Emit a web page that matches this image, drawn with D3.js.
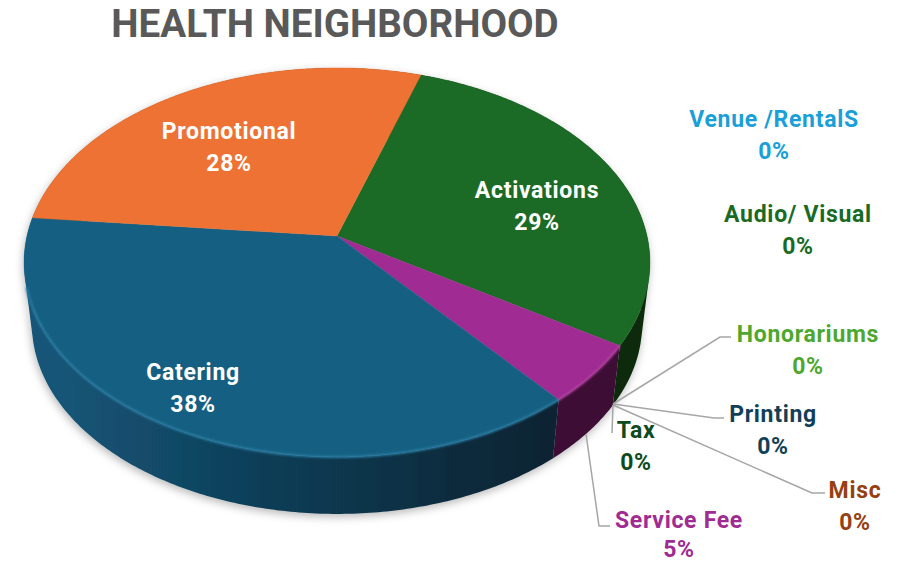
<!DOCTYPE html>
<html><head><meta charset="utf-8">
<script src="https://cdn.jsdelivr.net/npm/d3@7/dist/d3.min.js"></script>
<style>html,body{margin:0;background:#fff}svg{display:block}text{font-family:Roboto,sans-serif;font-weight:700;text-anchor:middle}</style>
</head><body><svg id="c" width="905" height="563"></svg>
<script>
const chartTitle = "HEALTH NEIGHBORHOOD";
const categories = ["Activations","Venue /RentalS","Audio/ Visual","Honorariums","Printing","Misc","Tax","Service Fee","Catering","Promotional"];
const shareValues = [29.0,0,0,0,0,0,0,5.0,37.6,28.4];

const faceColors = {"Activations":"#1b6b27","Service Fee":"#a02b93","Catering":"#156082","Promotional":"#ed7233"};
const sideLight = {"Activations":"#0b3312","Service Fee":"#45143f","Catering":"#145577","Promotional":"#8a4018"};
const sideDark  = {"Activations":"#0a2c10","Service Fee":"#3c1135","Catering":"#0a2433","Promotional":"#7a3814"};
const rimColors = {"Catering":"#2a7ba3","Service Fee":"#b0409f"};
const labelColors = {"Activations":"#fff","Venue /RentalS":"#1a9fd8","Audio/ Visual":"#196b24","Honorariums":"#4ea72e","Printing":"#123f58","Misc":"#964012","Tax":"#0f4a1e","Service Fee":"#a02b93","Catering":"#fff","Promotional":"#fff"};
const labelPlaces = {"Activations":[537,190,222],"Venue /RentalS":[774,119,151],"Audio/ Visual":[798,214,246],"Honorariums":[808,334,366],"Printing":[773,414,446],"Misc":[855,490,522],"Tax":[636,430,462],"Service Fee":[679,520,549],"Catering":[193,372,404],"Promotional":[229,131,163]};
const leaderPaths = [
  [[613,404],[720,337],[731,337]],
  [[613,404],[714,418],[724,418]],
  [[613,405],[812,493],[825,493]],
  [[613,405],[612,433]],
  [[586,434],[599,526],[610,526]]
];

const svg = d3.select("#c");
const defs = svg.append("defs");
defs.append("filter").attr("id","shadow").attr("x","-10%").attr("y","-10%").attr("width","120%").attr("height","125%")
  .append("feDropShadow").attr("dx",-1).attr("dy",3).attr("stdDeviation",4).attr("flood-color","#000").attr("flood-opacity",.28);
defs.append("filter").attr("id","soft").append("feGaussianBlur").attr("stdDeviation",.9);

// Perspective projection of the pie disc
const cx=337, persp=0.136;
const project=(a,level)=>{
  const x=Math.sin(a), y=-Math.cos(a), w=1-persp*y;
  return level===0
    ? [cx+310*x/w, 236+190.9*y/w]
    : [cx+0.975*310*x/w, 298.5+0.975*190.9*y/w];
};
const pie=d3.pie().sort(null).value((d,i)=>shareValues[i]).startAngle(17.8*Math.PI/180).endAngle(17.8*Math.PI/180+2*Math.PI);
const arcs=pie(categories).map((a,i)=>({...a,name:categories[i]})).filter(a=>a.value>0);
const line=d3.line();
const samples=(a,step=0.012)=>{
  const n=Math.max(2,Math.ceil((a.endAngle-a.startAngle)/step));
  return d3.range(n+1).map(i=>a.startAngle+(a.endAngle-a.startAngle)*i/n);
};

// side wall: one path of consistently wound quads, so the fold at the silhouette stays filled
const shade=d3.scaleLinear().domain([60,300,540]).range([0,.55,1]).clamp(true);
const walls=svg.append("g").attr("filter","url(#shadow)");
arcs.forEach((a,k)=>{
  const col=d3.interpolateRgb(sideLight[a.name],sideDark[a.name]);
  const grad=defs.append("linearGradient").attr("id","wall"+k).attr("gradientUnits","userSpaceOnUse")
    .attr("x1",0).attr("y1",0).attr("x2",905).attr("y2",0);
  d3.range(0,905.1,30).forEach(x=>grad.append("stop").attr("offset",x/905).attr("stop-color",col(shade(x))));
  const d=d3.pairs(samples(a)).map(([p,q])=>{
    let quad=[project(p,0),project(q,0),project(q,1),project(p,1)];
    if(d3.polygonArea(quad)<0) quad=quad.reverse();
    return line(quad)+"Z";
  }).join("");
  walls.append("path").attr("d",d).attr("fill",`url(#wall${k})`).attr("fill-rule","nonzero");
});

// top face
const faces=svg.append("g");
arcs.forEach(a=>{
  const pts=[[cx,236],...samples(a).map(t=>project(t,0))];
  faces.append("path").attr("d",line(pts)+"Z").attr("fill",faceColors[a.name]).attr("stroke",faceColors[a.name]).attr("stroke-width",.4);
});
// bevel highlight on the front rim
const rim=svg.append("g").attr("filter","url(#soft)");
arcs.filter(a=>rimColors[a.name]).forEach(a=>{
  const front=samples(a).filter(t=>t<Math.PI*1.42);
  rim.append("path").attr("d",line(front.map(t=>project(t,0)))).attr("fill","none").attr("stroke",rimColors[a.name]).attr("stroke-width",2.2);
});

// leaders
svg.append("g").selectAll("path").data(leaderPaths).join("path")
  .attr("d",d=>line(d)).attr("fill","none").attr("stroke","#a6a6a6").attr("stroke-width",1.5);

// labels
const pct=d3.format(".0f");
categories.forEach((name,i)=>{
  const [x,y1,y2]=labelPlaces[name];
  const g=svg.append("g").attr("fill",labelColors[name]).attr("font-size",23).attr("letter-spacing",.7);
  g.append("text").attr("x",x).attr("y",y1+8).text(name);
  g.append("text").attr("x",x).attr("y",y2+8).text(pct(shareValues[i])+"%");
});
svg.append("text").attr("x",335).attr("y",37).attr("font-size",38.6).attr("fill","#595959").text(chartTitle);
</script></body></html>
